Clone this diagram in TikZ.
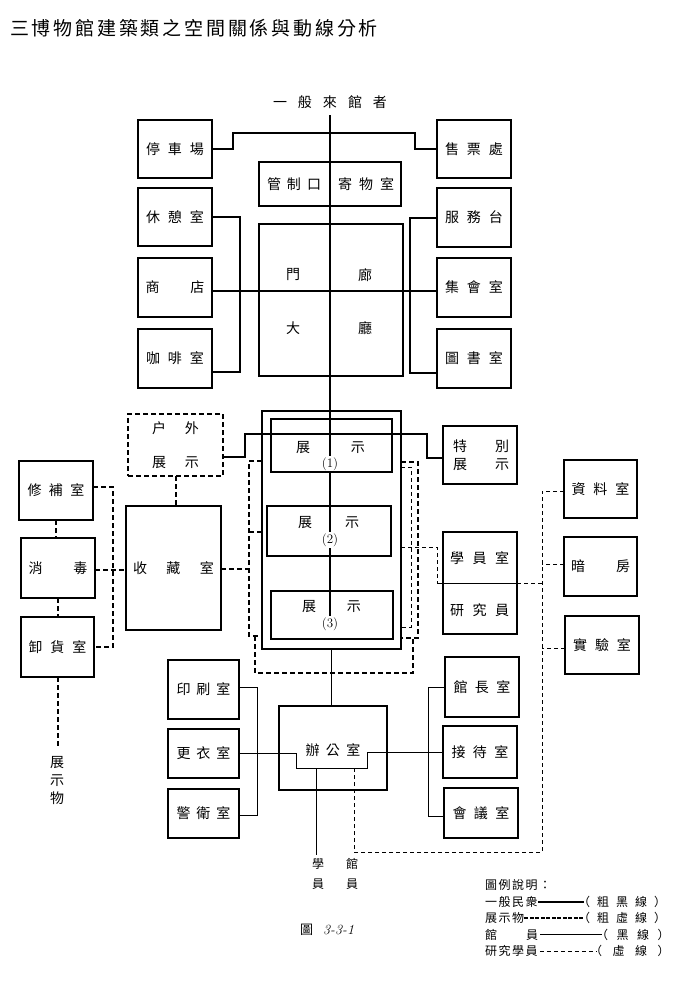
\documentclass[tikz,border=0pt]{standalone}
\usepackage{fontspec}
\newfontfamily\cjk{Noto Sans CJK TC}
\usetikzlibrary{calc}
\newcommand\spread[2]{\def\spreadgap{\hspace*{#1}}\spreadloop#2\relax}
\def\spreadloop#1{\ifx#1\relax\else#1\expandafter\spreadnext\fi}
\def\spreadnext#1{\ifx#1\relax\else\spreadgap#1\expandafter\spreadnext\fi}
\begin{document}
\begin{tikzpicture}[x=1pt,y=-1pt,
 bx/.style={draw, line width=1.8pt, inner sep=0pt, outer sep=0pt, font={\cjk\fontsize{14}{14}\selectfont}},
 dbx/.style={draw, line width=1.6pt, dash pattern=on 5pt off 3pt, inner sep=0pt, outer sep=0pt},
 num/.style={font={\fontsize{13}{13}\selectfont}, inner sep=1.5pt},
 txt/.style={inner sep=0pt, font={\cjk\fontsize{14}{14}\selectfont}},
 leg/.style={inner sep=0pt, anchor=west, font={\cjk\fontsize{12}{12}\selectfont}},
 pub/.style={line width=2pt},
 stf/.style={line width=1pt},
 obj/.style={line width=2pt, dash pattern=on 5pt off 3pt},
 res/.style={line width=1pt, dash pattern=on 4pt off 3pt},
]
\fill[white] (0,0) rectangle (676,983);
\useasboundingbox (0,0) rectangle (676,983);

% title
\node[anchor=west, inner sep=0pt, font={\cjk\fontsize{19}{19}\selectfont}] (title) at (10,28) {\spread{2.8pt}{三博物館建築類之空間關係與動線分析}};

% visitor entrance
\node[txt] (vis) at (330,102) {\spread{11pt}{一般來館者}};
\coordinate (vtop) at (330,115);

% left column
\node[bx, minimum width=74pt, minimum height=58pt] (park) at (175,149) {\spread{8pt}{停車場}};
\node[bx, minimum width=74pt, minimum height=58pt] (rest) at (175,217) {\spread{8pt}{休憩室}};
\node[bx, minimum width=74pt, minimum height=59pt] (shop) at (175,287.5) {\spread{31pt}{商店}};
\node[bx, minimum width=74pt, minimum height=59pt] (cafe) at (175,358.5) {\spread{8pt}{咖啡室}};
% right column
\node[bx, minimum width=74pt, minimum height=58pt] (tick) at (474,149) {\spread{8pt}{售票處}};
\node[bx, minimum width=74pt, minimum height=59pt] (serv) at (474,217.5) {\spread{8pt}{服務台}};
\node[bx, minimum width=74pt, minimum height=59pt] (meet) at (474,287.5) {\spread{8pt}{集會室}};
\node[bx, minimum width=74pt, minimum height=59pt] (lib) at (474,358.5) {\spread{8pt}{圖書室}};

% control + hall
\node[bx, minimum width=142pt, minimum height=44pt] (ctrl) at (330,184) {};
\node[txt] (ctrlA) at (294,184) {\spread{6pt}{管制口}};
\node[txt] (ctrlB) at (366,184) {\spread{7pt}{寄物室}};
\node[bx, minimum width=144pt, minimum height=152pt] (hall) at (331,300) {};
\node[txt] (hA) at (293,275) {門};
\node[txt] (hB) at (365,275) {廊};
\node[txt] (hC) at (293,328) {大};
\node[txt] (hD) at (365,328) {廳};

% exhibition
\node[bx, line width=2pt, minimum width=139pt, minimum height=238pt] (exo) at (331.5,530) {};
\node[bx, minimum width=121pt, minimum height=53pt] (ex1) at (331.5,445.5) {};
\node[bx, minimum width=124pt, minimum height=50pt] (ex2) at (329,531) {};
\node[bx, minimum width=122pt, minimum height=48pt] (ex3) at (332,615) {};
\node[txt] (ex1t) at (330.5,448) {\spread{41pt}{展示}};
\node[txt] (ex2t) at (328.5,523) {\spread{33pt}{展示}};
\node[txt] (ex3t) at (331.5,607) {\spread{31pt}{展示}};
\node[num] (l1) at (330,464) {(1)};
\node[num] (l2) at (330,540) {(2)};
\node[num] (l3) at (330,624) {(3)};

\node[dbx, minimum width=95pt, minimum height=62pt] (outd) at (175.5,445) {};
\node[txt] (outdA) at (175.5,428) {\spread{19pt}{户外}};
\node[txt] (outdB) at (175.5,463) {\spread{19pt}{展示}};
\node[bx, minimum width=74pt, minimum height=58pt] (spec) at (480,455) {};
\node[txt] (specA) at (481,446) {\spread{28pt}{特別}};
\node[txt] (specB) at (481,465) {\spread{28pt}{展示}};

% storage side
\node[bx, minimum width=95pt, minimum height=124pt] (stor) at (173.5,568) {\spread{19.5pt}{收藏室}};
\node[bx, minimum width=74pt, minimum height=59pt] (rep) at (56,490.5) {\spread{7.5pt}{修補室}};
\node[bx, minimum width=74pt, minimum height=60pt] (dis) at (58,568) {\spread{31pt}{消毒}};
\node[bx, minimum width=73pt, minimum height=60pt] (unl) at (57.5,647) {\spread{8pt}{卸貨室}};

% research side
\node[bx, minimum width=74pt, minimum height=102pt] (stu) at (480,583) {};
\node[txt] (stuA) at (479.5,558) {\spread{8.5pt}{學員室}};
\node[txt] (stuB) at (479.5,610) {\spread{8.5pt}{研究員}};
\coordinate (stuL) at (437,583);
\node[bx, minimum width=73pt, minimum height=58pt] (data) at (600.5,489) {\spread{8pt}{資料室}};
\node[bx, minimum width=73pt, minimum height=59pt] (dark) at (600.5,566.5) {\spread{31pt}{暗房}};
\node[bx, minimum width=74pt, minimum height=58pt] (lab) at (602,645) {\spread{8pt}{實驗室}};

% office side
\node[bx, minimum width=71pt, minimum height=59pt] (print) at (203.5,689.5) {\spread{6pt}{印刷室}};
\node[bx, minimum width=71pt, minimum height=49pt] (chg) at (203.5,753.5) {\spread{6pt}{更衣室}};
\node[bx, minimum width=71pt, minimum height=49pt] (guard) at (203.5,813.5) {\spread{6pt}{警衛室}};
\node[bx, minimum width=108pt, minimum height=84pt] (off) at (333,748) {};
\node[txt] (offt) at (333,750) {\spread{6.5pt}{辦公室}};
\node[bx, minimum width=74pt, minimum height=60pt] (dir) at (482,687) {\spread{7.5pt}{館長室}};
\node[bx, minimum width=74pt, minimum height=52pt] (recp) at (480,752) {\spread{7.5pt}{接待室}};
\node[bx, minimum width=74pt, minimum height=50pt] (conf) at (481,813) {\spread{7.5pt}{會議室}};
\coordinate (notchL) at (316,768);
\coordinate (notchR) at (354,768);

% ---- general public (thick solid)
\draw[pub] (vtop) -- (vtop |- l1.north);
\draw[pub] (park.east) -- (233,149) -- (233,133) -- (415,133) -- (415,149) -- (tick.west);
\draw[pub] (rest.east) -- (240,217) -- (240,372) -- ([yshift=-13.5pt]cafe.east);
\draw[pub] ([yshift=-3.5pt]shop.east) -- ([yshift=-3.5pt]meet.west);
\draw[pub] ([yshift=-0.5pt]serv.west) -- (410,218) -- (410,373) -- ([yshift=-14.5pt]lib.west);
\draw[pub] ([yshift=-12pt]outd.east) -- (245,457) -- (245,434) -- (427,434) -- (427,458) -- ([yshift=-3pt]spec.west);
\draw[line width=1.2pt] (l1.south) -- (l2.north);
\draw[pub] (l2.south) -- (l3.north);

% ---- exhibits (thick dashed)
\draw[obj] (outd.south) -- (outd.south |- stor.north);
\draw[obj] ([yshift=69pt]exo.west) -- (249,461) -- (249,636) -- ([yshift=-106pt]exo.west);
\draw[obj] ([yshift=-2pt]exo.west) -- (249,532);
\draw[obj] ([yshift=-1pt]stor.east) -- (249,569);
\draw[obj] (255,636) -- (255,673) -- (413,673) -- (413,638);
\draw[obj] ([yshift=68pt]exo.east) -- (418,462) -- (418,638) -- ([yshift=-108pt]exo.east);
\draw[obj] (rep.south) -- (rep.south |- dis.north);
\draw[obj] (dis.south) -- (dis.south |- unl.north);
\coordinate (objend) at (57.5,746);
\draw[obj] (unl.south) -- (objend);
\node[inner sep=0pt, align=center, font={\cjk\fontsize{14}{18}\selectfont}] (objtxt) at (57,781) {展\\示\\物};
\draw[obj] ([yshift=3.5pt]rep.east) -- (113,487) -- (113,647) -- (unl.east);
\draw[obj] ([yshift=-2pt]dis.east) -- ([yshift=-2pt]stor.west);

% ---- staff (thin solid)
\draw[stf] (exo.south) -- (exo.south |- off.north);
\draw[stf] ([yshift=2.5pt]print.east) -- (257,687) -- (257,815) -- ([yshift=-1.5pt]guard.east);
\draw[stf] (chg.east) -- (296,753.5) -- (296,768) -- (367,768) -- (367,752) -- (recp.west);
\draw[stf] (dir.west) -- (428,687) -- (428,816) -- ([yshift=-3pt]conf.west);
\draw[stf] (stuL) -- (stu.east);
\coordinate (staffend) at (316,855);
\draw[stf] (notchL) -- (staffend);
\node[inner sep=0pt, align=center, font={\cjk\fontsize{12}{20}\selectfont}] (stutxt) at (318,874) {學\\員};
\node[inner sep=0pt, align=center, font={\cjk\fontsize{12}{20}\selectfont}] (stftxt) at (352,874) {館\\員};

% ---- researchers (thin dashed)
\draw[res] ([yshift=63pt]exo.east) -- (411,467) -- (411,627) -- ([yshift=-97pt]exo.east);
\draw[res] ([yshift=-17pt]exo.east) -- (437,547) -- (stuL);
\draw[res] (stu.east) -- (542,583);
\coordinate (rtop) at (542,491);
\coordinate (rbot) at (542,852);
\draw[res] ([yshift=-2pt]data.west) -- (rtop) -- (rbot) -- (354,852) -- (notchR);
\draw[res] ([yshift=2.5pt]dark.west) -- (542,564);
\draw[res] ([yshift=-3pt]lab.west) -- (542,648);

% caption
\node[anchor=west, inner sep=0pt, font={\cjk\fontsize{13}{13}\selectfont}] (cap) at (300,930) {圖\hspace{10pt}{\rmfamily\itshape\fontsize{14}{14}\selectfont 3-3-1}};

% legend
\node[leg] (legt) at (485,885) {\spread{1.5pt}{圖例說明：}};
\node[leg] (lg1) at (485,901.5) {\spread{1.5pt}{一般民衆}};
\node[leg] (lp1) at (578,901.5) {\spread{7pt}{（粗黑線）}};
\draw[pub] (lg1.east) -- ([xshift=6pt]lp1.west);
\node[leg] (lg2) at (485,918) {\spread{1.5pt}{展示物}};
\node[leg] (lp2) at (578,918) {\spread{7pt}{（粗虛線）}};
\draw[obj, dash pattern=on 4pt off 1.5pt] (lg2.east) -- ([xshift=6pt]lp2.west);
\node[leg] (lg3) at (485,934.5) {\spread{29pt}{館員}};
\node[leg] (lp3) at (596,934.5) {\spread{8.5pt}{（黑線）}};
\draw[stf] ([xshift=2pt]lg3.east) -- ([xshift=6pt]lp3.west);
\node[leg] (lg4) at (485,951) {\spread{1.5pt}{研究學員}};
\node[leg] (lp4) at (590,951) {\spread{10.5pt}{（虛線）}};
\draw[res] ([xshift=2pt]lg4.east) -- ([xshift=6pt]lp4.west);
\end{tikzpicture}
\end{document}
